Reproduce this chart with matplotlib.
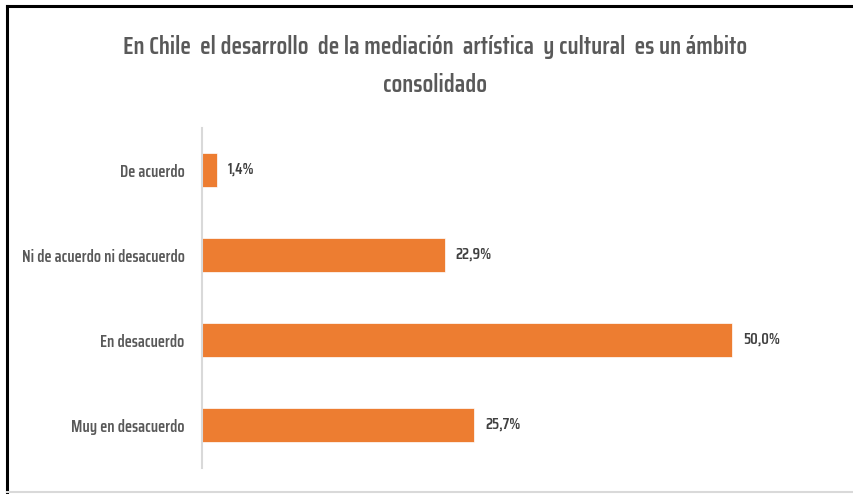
import matplotlib
matplotlib.use("Agg")
import matplotlib.pyplot as plt
from matplotlib.lines import Line2D
from matplotlib import font_manager

categories = ["De acuerdo", "Ni de acuerdo ni desacuerdo", "En desacuerdo", "Muy en desacuerdo"]
values = [1.4, 22.9, 50.0, 25.7]
labels = ["1,4%", "22,9%", "50,0%", "25,7%"]
title_1 = "En Chile  el desarrollo  de la mediación  artística  y cultural  es un ámbito"
title_2 = "consolidado"

names = {f.name for f in font_manager.fontManager.ttflist}
cands = ["Saira Extra Condensed", "Saira Condensed", "Pathway Gothic One", "Antonio",
         "Barlow Condensed", "Roboto Condensed", "Asap Condensed", "DejaVu Sans"]
fam = next(c for c in cands if c in names)
plt.rcParams['font.family'] = [fam, 'DejaVu Sans']

W, H = 854, 494
fig = plt.figure(figsize=(W/100, H/100), dpi=100)
ax = fig.add_axes([202/W, 1-467.5/H, (838-202)/W, (467.5-127.5)/H])

y = list(range(len(categories)))
ax.barh(y, values, height=0.4, color="#ED7D31", edgecolor="white", linewidth=0.5)
ax.set_ylim(len(categories)-0.5, -0.5)
ax.set_xlim(0, 60)
ax.set_yticks(y)
ticklabels = ax.set_yticklabels(categories, fontsize=12, color="#595959", fontweight="semibold")
ax.tick_params(axis='y', length=0, pad=12.5)
ax.set_xticks([])
for s in ["top", "right", "bottom"]:
    ax.spines[s].set_visible(False)
ax.spines["left"].set_color("#D9D9D9")
ax.spines["left"].set_linewidth(1.5)
vals = []
for yi, v, lab in zip(y, values, labels):
    vals.append(ax.annotate(lab, (v, yi), xytext=(8, 0), textcoords="offset points",
                va="center", ha="left", fontsize=12, color="#404040", fontweight="semibold"))

t1 = fig.text(435/W, 1-47/H, title_1, ha="center", va="center", fontsize=18,
              color="#595959", fontweight="semibold")
t2 = fig.text(435/W, 1-85/H, title_2, ha="center", va="center", fontsize=18,
              color="#595959", fontweight="semibold")

# fit font sizes to the reference text widths
fig.canvas.draw()
r = fig.canvas.get_renderer()
def fit(txt, target):
    w = txt.get_window_extent(r).width
    return txt.get_fontsize() * target / w
ts = fit(t1, 626)
t1.set_fontsize(ts); t2.set_fontsize(ts)
ls = fit(ticklabels[1], 163)
for t in ax.get_yticklabels():
    t.set_fontsize(ls)
vs = fit(vals[2], 37)
for t in vals:
    t.set_fontsize(vs)

fig.add_artist(Line2D([7/W, 1], [1-6/H, 1-6/H], color="black", lw=2.2, transform=fig.transFigure))
fig.add_artist(Line2D([7/W, 7/W], [0, 1-6/H], color="black", lw=2.2, transform=fig.transFigure))
fig.add_artist(Line2D([7/W, 1], [1-492/H, 1-492/H], color="#D9D9D9", lw=1.5, transform=fig.transFigure))

fig.savefig("out.png", dpi=100, facecolor="white")
